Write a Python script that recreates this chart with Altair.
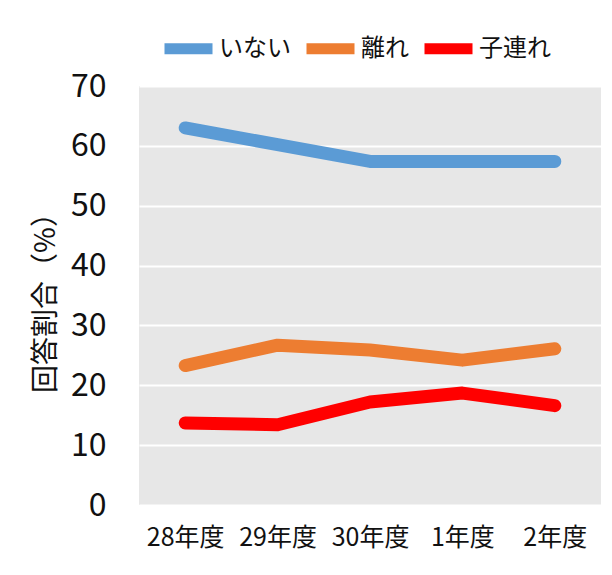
import altair as alt
import pandas as pd

years = ["28年度", "29年度", "30年度", "1年度", "2年度"]
series_names = ["いない", "離れ", "子連れ"]
inai = [63.0, 60.2, 57.4, 57.4, 57.4]
hanare = [23.3, 26.7, 25.9, 24.2, 26.1]
kozure = [13.7, 13.4, 17.2, 18.7, 16.6]
colors = ["#5B9BD5", "#ED7D31", "#FF0000"]

rows = []
for name, vals in zip(series_names, [inai, hanare, kozure]):
    for y, v in zip(years, vals):
        rows.append({"year": y, "series": name, "value": v})
df = pd.DataFrame(rows)

FONT = "Noto Sans CJK JP"

chart = alt.Chart(df).mark_line(
    strokeWidth=13, strokeCap="round", strokeJoin="round"
).encode(
    x=alt.X("year:N", sort=years, title=None,
            axis=alt.Axis(labelAngle=0, labelFontSize=25, labelColor="#111",
                          labelFont=FONT, domain=False, ticks=False,
                          labelPadding=20, grid=False)),
    y=alt.Y("value:Q", scale=alt.Scale(domain=[0, 70], nice=False),
            title="回答割合（%）",
            axis=alt.Axis(values=[0, 10, 20, 30, 40, 50, 60, 70],
                          labelFontSize=32, labelColor="#111", labelFont=FONT,
                          domain=False, ticks=False, labelPadding=33,
                          gridColor="white", gridWidth=2,
                          titleFontSize=28, titleFont=FONT, titleFontWeight="normal",
                          titleColor="#111", titlePadding=10)),
    color=alt.Color("series:N", sort=series_names,
                    scale=alt.Scale(domain=series_names, range=colors),
                    legend=alt.Legend(title=None, orient="none", legendX=20, legendY=-67,
                                      direction="horizontal",
                                      symbolType="stroke", symbolStrokeWidth=11,
                                      symbolSize=2304, labelFontSize=24,
                                      labelFont=FONT, labelColor="#111",
                                      labelOffset=1, columnPadding=-7)),
).properties(
    width=462, height=419,
    padding={"left": 24, "top": 11, "right": 1, "bottom": 8},
    background="white",
).configure_view(
    fill="#E7E7E7", stroke=None
)

chart.save("out.html", embed_options={"renderer": "svg", "actions": False})
